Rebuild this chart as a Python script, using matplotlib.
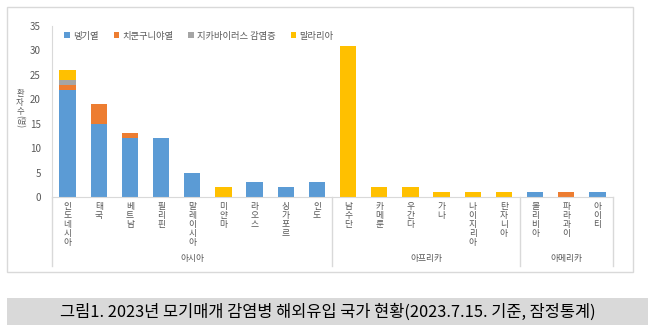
import numpy as np
import matplotlib
matplotlib.use("Agg")
import matplotlib.pyplot as plt
import matplotlib.transforms as mtransforms
from matplotlib.patches import Rectangle

plt.rcParams['font.family'] = ['Noto Sans CJK KR', 'DejaVu Sans']

countries = ["인도네시아", "태국", "베트남", "필리핀", "말레이시아", "미얀마", "라오스", "싱가포르", "인도",
             "남수단", "카메룬", "우간다", "가나", "나이지리아", "탄자니아",
             "볼리비아", "파라과이", "아이티"]
regions = ["아시아", "아프리카", "아메리카"]
region_sizes = [9, 6, 3]

dengue  = [22, 15, 12, 12, 5, 0, 3, 2, 3, 0, 0, 0, 0, 0, 0, 1, 0, 1]
chikun  = [1, 4, 1, 0, 0, 0, 0, 0, 0, 0, 0, 0, 0, 0, 0, 0, 1, 0]
zika    = [1, 0, 0, 0, 0, 0, 0, 0, 0, 0, 0, 0, 0, 0, 0, 0, 0, 0]
malaria = [2, 0, 0, 0, 0, 2, 0, 0, 0, 31, 2, 2, 1, 1, 1, 0, 0, 0]

series = [("뎅기열", dengue, "#5B9BD5"), ("치쿤구니야열", chikun, "#ED7D31"),
          ("지카바이러스 감염증", zika, "#A5A5A5"), ("말라리아", malaria, "#FFC000")]

GRAY = "#595959"
W, H = 658, 332
fig = plt.figure(figsize=(W / 100, H / 100), dpi=100)

# chart frame and caption band
fig.patches.append(Rectangle((7 / W, 1 - 272 / H), 626 / W, 265 / H, transform=fig.transFigure,
                             fill=False, edgecolor="#d9d9d9", linewidth=1))
fig.patches.append(Rectangle((7 / W, 1 - 325 / H), 641 / W, 27 / H, transform=fig.transFigure,
                             facecolor="#d9d9d9", edgecolor="none"))
fig.text(328 / W, 1 - 312 / H, "그림1. 2023년 모기매개 감염병 해외유입 국가 현황(2023.7.15. 기준, 잠정통계)",
         ha="center", va="center", fontsize=11.8, color="black")

ax = fig.add_axes([52 / W, 1 - 197 / H, 561 / W, 171 / H])
x = np.arange(len(countries))
bottom = np.zeros(len(countries))
for name, vals, col in series:
    v = np.array(vals, dtype=float)
    ax.bar(x, v, 0.52, bottom=bottom, color=col, label=name, edgecolor="none")
    bottom += v

ax.set_xlim(-0.5, len(countries) - 0.5)
ax.set_ylim(0, 35)
ax.set_yticks(range(0, 36, 5))
ax.tick_params(axis="y", length=0, labelsize=7, labelcolor=GRAY, pad=8)
ax.set_xticks([])
for s in ["top", "right"]:
    ax.spines[s].set_visible(False)
for s in ["left", "bottom"]:
    ax.spines[s].set_color("#d9d9d9")

# stacked y label
fig.text(20 / W, 1 - 89 / H, "환\n자\n수", ha="center", va="top", fontsize=6,
         color=GRAY, linespacing=1.0)
fig.text(20 / W, 1 - 115 / H, "(명)", ha="center", va="top", fontsize=6,
         color=GRAY, rotation=-90)

trans = mtransforms.blended_transform_factory(ax.transData, fig.transFigure)
for i, name in enumerate(countries):
    ax.text(i, 1 - 202 / H, "\n".join(name), transform=trans, ha="center", va="top",
            fontsize=6.3, color=GRAY, linespacing=1.0)

# group dividers and region labels
edges = np.concatenate([[0], np.cumsum(region_sizes)]) - 0.5
for e in edges:
    ax.plot([e, e], [1 - 197 / H, 1 - 266 / H], transform=trans, color="#d9d9d9",
            linewidth=1, clip_on=False)
for r, a, b in zip(regions, edges[:-1], edges[1:]):
    ax.text((a + b) / 2, 1 - 258 / H, r, transform=trans, ha="center", va="center",
            fontsize=6.3, color=GRAY)

ax.legend(loc="upper left", bbox_to_anchor=(0.012, 1.0), ncol=4, frameon=False,
          fontsize=6.7, labelcolor=GRAY, handlelength=0.6, handleheight=0.6,
          handletextpad=0.3, columnspacing=1.65, borderaxespad=0.2)

fig.savefig("out.png", dpi=100)
